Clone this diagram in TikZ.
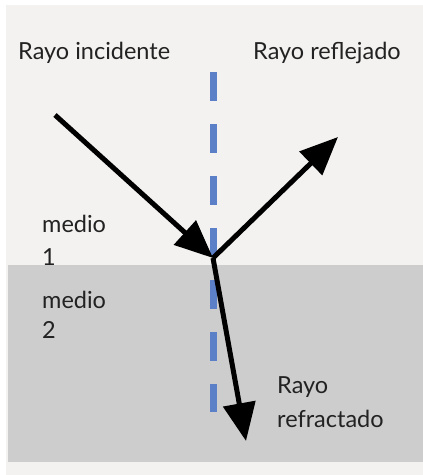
\documentclass[tikz,border=0pt]{standalone}
\usepackage{fontspec}
\setmainfont{Lato}
\usetikzlibrary{arrows.meta}
\definecolor{bgc}{HTML}{F4F2F0}
\definecolor{medc}{HTML}{CDCDCD}
\definecolor{normc}{HTML}{5B80C8}
\definecolor{txtc}{HTML}{222222}
\begin{document}
\begin{tikzpicture}[x=1pt,y=-1pt,
  lbl/.style={anchor=base west,inner sep=0pt,text=txtc,font=\fontsize{23.5}{28}\selectfont},
  ray/.style={line width=5pt,black,-{Triangle[length=38pt,width=32pt]}}]
\useasboundingbox (0,0) rectangle (423,475);
\fill[white] (0,0) rectangle (423,475);
\fill[bgc] (6,5) rectangle (423,475);
\fill[medc] (8,265) rectangle (423,462);
\coordinate (top) at (213,72);
\coordinate (bot) at (213,412);
\draw[normc,line width=7pt,dash pattern=on 29pt off 23pt] (top) -- (bot);
\coordinate (src) at (55,115);
\coordinate (hit) at (213,258);
\coordinate (refl) at (338,137);
\coordinate (refr) at (246,441);
\draw[ray] (src) -- (hit);
\draw[ray] (hit) -- (refl);
\draw[ray] (hit) -- (refr);
\node[lbl] (inc) at (18,59) {Rayo incidente};
\node[lbl] (ref) at (253,59) {Rayo reflejado};
\node[lbl] (m1a) at (42,232) {medio};
\node[lbl] (m1b) at (42,265) {1};
\node[lbl] (m2a) at (42,308) {medio};
\node[lbl] (m2b) at (42,338) {2};
\node[lbl] (rra) at (277,393) {Rayo};
\node[lbl] (rrb) at (277,427) {refractado};
\end{tikzpicture}
\end{document}
